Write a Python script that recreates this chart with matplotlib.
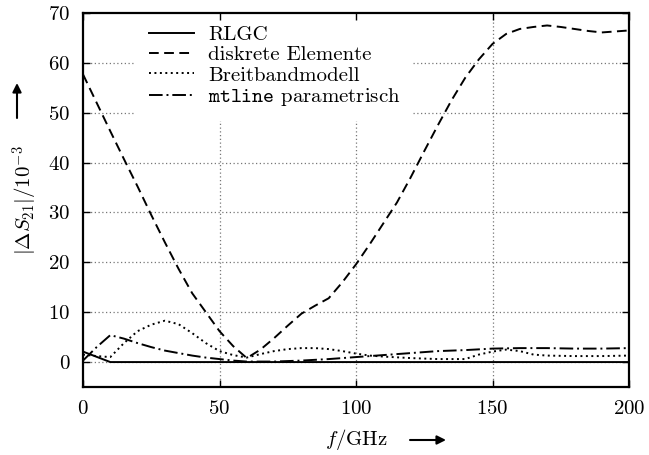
import numpy as np
import matplotlib
matplotlib.use("Agg")
import matplotlib.pyplot as plt

plt.rcParams['font.family'] = 'serif'
plt.rcParams['font.serif'] = ['cmr10']
plt.rcParams['mathtext.fontset'] = 'cm'
plt.rcParams['axes.formatter.use_mathtext'] = True

# values (|dS21| in units of 1e-3, f in GHz)
f_rlgc = [0, 10, 60, 100, 150, 200]
s_rlgc = [2.1, 0.0, 0.0, 0.0, 0.0, 0.0]

f_disk = [0, 5, 10, 15, 20, 25, 30, 35, 40, 45, 50, 55, 60, 65, 70, 75, 80, 85, 90, 95,
          100, 105, 110, 115, 120, 125, 130, 135, 140, 145, 150, 155, 160, 165, 170, 175,
          180, 185, 190, 195, 200]
s_disk = [57.7, 52.0, 46.3, 40.7, 35.2, 29.5, 24.0, 18.7, 13.8, 10.0, 6.2, 3.2, 0.8, 2.5,
          4.8, 7.3, 9.7, 11.3, 12.8, 16.0, 19.6, 23.6, 27.8, 32.0, 37.0, 42.3, 47.5, 52.5,
          57.0, 60.7, 63.8, 65.8, 66.8, 67.2, 67.5, 67.2, 66.8, 66.4, 66.1, 66.3, 66.5]

f_breit = [0, 5, 10, 15, 20, 25, 30, 35, 40, 45, 50, 55, 60, 65, 70, 75, 80, 85, 90, 95,
           100, 105, 110, 120, 130, 140, 145, 150, 155, 160, 165, 170, 180, 190, 200]
s_breit = [1.5, 1.2, 1.0, 3.8, 6.2, 7.5, 8.3, 7.6, 5.8, 3.8, 2.2, 1.4, 0.9, 1.6, 2.2, 2.6,
           2.8, 2.8, 2.6, 2.2, 1.7, 1.3, 1.1, 0.8, 0.6, 0.6, 1.5, 2.1, 2.5, 2.2, 1.5, 1.3,
           1.2, 1.2, 1.3]

f_mtl = [0, 5, 10, 15, 20, 25, 30, 35, 40, 45, 50, 55, 60, 70, 80, 90, 100, 110, 120, 130,
         140, 150, 160, 170, 180, 190, 200]
s_mtl = [0.3, 3.0, 5.4, 4.7, 3.8, 3.0, 2.3, 1.8, 1.3, 0.9, 0.6, 0.3, 0.1, 0.1, 0.3, 0.6,
         1.0, 1.4, 1.8, 2.2, 2.4, 2.7, 2.8, 2.8, 2.7, 2.7, 2.8]

labels = ['RLGC', 'diskrete Elemente', 'Breitbandmodell', r'$\mathtt{mtline}$ parametrisch']
xticks = [0, 50, 100, 150, 200]
yticks = [0, 10, 20, 30, 40, 50, 60, 70]

fig = plt.figure(figsize=(6.49, 4.55), dpi=100)
ax = fig.add_axes([83/649, 1 - 387/455, 546/649, 374/455])

lw = 1.4
ax.plot(f_rlgc, s_rlgc, color='black', lw=lw, label=labels[0])
ax.plot(f_disk, s_disk, color='black', lw=lw, dashes=(5, 2.8), label=labels[1])
ax.plot(f_breit, s_breit, color='black', lw=lw, dashes=(1, 1.8), label=labels[2])
ax.plot(f_mtl, s_mtl, color='black', lw=lw, dashes=(7, 2, 1, 2), label=labels[3])

ax.set_xlim(0, 200)
ax.set_ylim(-5, 70)
ax.set_xticks(xticks)
ax.set_yticks(yticks)
ax.tick_params(direction='in', length=5, width=1, top=True, right=True, labelsize=15, pad=9)
for sp in ax.spines.values():
    sp.set_linewidth(1.6)

# gnuplot-style dotted grid
for x in xticks[1:-1]:
    ax.axvline(x, color='#777777', lw=0.9, ls=(0, (1, 2)), zorder=0)
for y in yticks[:-1]:
    ax.axhline(y, color='#777777', lw=0.9, ls=(0, (1, 2)), zorder=0)

leg = ax.legend(loc='upper left', bbox_to_anchor=(53/546, 1.0), fontsize=15,
                frameon=True, facecolor='white', edgecolor='none', framealpha=1,
                fancybox=False, handlelength=2.2, handletextpad=0.65, labelspacing=0.08,
                borderpad=0.6, borderaxespad=0.0)
leg.set_zorder(1)

# axis labels with the little arrows
fig.text(25/649, 1 - 200/455, r'$|\Delta S_{21}|/10^{-3}$', rotation=90, ha='center', va='center', fontsize=15)
fig.text(356/649, 1 - 440/455, r'$f/\mathrm{GHz}$', ha='center', va='center', fontsize=15)
arrow = dict(arrowstyle='-|>', lw=1.5, color='black', mutation_scale=13, shrinkA=0, shrinkB=0)
ax.annotate('', xy=(446, 455 - 440), xytext=(410, 455 - 440), xycoords='figure pixels', arrowprops=arrow)
ax.annotate('', xy=(17, 455 - 83), xytext=(17, 455 - 118), xycoords='figure pixels', arrowprops=arrow)

fig.savefig('out.png', dpi=100)
